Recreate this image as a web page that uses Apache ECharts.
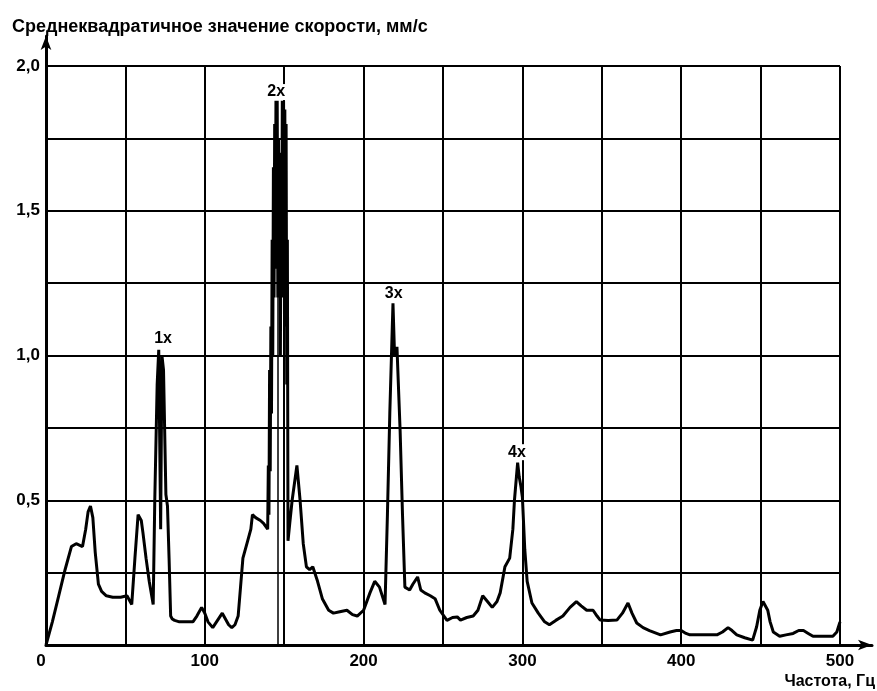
<!DOCTYPE html>
<html>
<head>
<meta charset="utf-8">
<script src="https://cdn.jsdelivr.net/npm/echarts@6/dist/echarts.min.js"></script>
<style>
	html, body { margin: 0; padding: 0; background: #fff; }
	#chart { width: 877px; height: 691px; }
</style>
</head>
<body>
<div id="chart"></div>
<script>
// частота, Гц
var freq = [0, 4, 8, 12, 16, 19, 23, 25, 26.5, 28, 29.5, 31, 33, 35, 38, 42, 47, 51, 54, 56, 58, 60, 61, 63, 65, 67.5,
	68.5, 70, 71, 72.2, 73, 74, 75.5, 76.5, 77.5, 78.5, 79.5, 81, 84, 88, 92.5, 95, 98, 100, 102, 105, 108, 111, 113, 115,
	117, 119, 121, 122.5, 124, 127, 129, 130, 132, 135, 137, 139.6,
	140, 140.4, 140.8, 141.2, 141.6, 142, 142.4, 142.8, 143.2, 143.6, 144, 144.4, 144.8, 145.2, 145.6, 146, 146.4, 146.8,
	147.2, 147.6, 148, 148.4, 148.8, 149.2, 149.6, 150, 150.4, 150.8, 151.2, 151.6, 152, 152.4,
	153.5, 155, 158, 160, 162, 164, 166, 168, 171, 174, 178, 181, 185,
	189.5, 193, 196, 200, 204, 207, 210, 213.5, 215, 216.5, 218.5, 219.5, 221, 223, 224.5, 226, 229, 231, 234, 236, 238.5,
	242, 245, 248, 252.5, 256, 259, 261, 265, 269, 272, 275, 278, 281, 284, 286, 289, 292, 294, 295, 297, 298, 299, 300,
	301.5, 303, 306, 310, 314, 317, 321, 325.5, 330, 334, 337, 340.5, 344.5, 347, 349, 354, 359.5, 363, 366.5, 369, 372,
	376, 380, 387, 393, 397, 400, 403, 405.5, 415, 422.5, 426, 429.5, 432, 435, 440, 445, 447.5, 449.5, 451.5, 454.5, 456,
	458, 462, 466, 470.5, 474, 477, 480, 483, 490, 495.5, 498, 500];
// среднеквадратичное значение скорости, мм/с
var rms = [0, 0.08, 0.17, 0.26, 0.34, 0.35, 0.34, 0.40, 0.46, 0.48, 0.44, 0.32, 0.21, 0.185, 0.17, 0.165, 0.165, 0.17, 0.14, 0.30, 0.45, 0.43, 0.39, 0.30, 0.22, 0.14,
	0.50, 0.90, 1.02, 0.40, 1.00, 0.95, 0.52, 0.48, 0.30, 0.10, 0.09, 0.085, 0.08, 0.08, 0.08, 0.10, 0.13, 0.11, 0.08, 0.06, 0.085, 0.11, 0.09, 0.07,
	0.06, 0.07, 0.10, 0.20, 0.30, 0.36, 0.40, 0.45, 0.44, 0.43, 0.42, 0.40,
	0.62, 0.45, 0.95, 0.60, 1.10, 0.80, 1.40, 1.00, 1.65, 1.20, 1.80, 1.30, 1.88, 1.50, 1.88, 1.20, 1.75, 1.35,
	1.70, 1.00, 1.60, 1.20, 1.88, 1.40, 1.88, 1.30, 1.85, 1.10, 1.80, 0.90, 1.40, 0.36,
	0.42, 0.50, 0.62, 0.50, 0.35, 0.27, 0.26, 0.27, 0.22, 0.16, 0.12, 0.11, 0.115,
	0.12, 0.105, 0.10, 0.12, 0.18, 0.22, 0.20, 0.14, 0.45, 0.80, 1.18, 1.00, 1.03, 0.74, 0.45, 0.20, 0.19, 0.21, 0.235, 0.19, 0.18,
	0.17, 0.16, 0.12, 0.085, 0.095, 0.097, 0.086, 0.095, 0.10, 0.12, 0.17, 0.15, 0.13, 0.15, 0.18, 0.27, 0.30, 0.40, 0.50, 0.63, 0.58, 0.55, 0.51,
	0.33, 0.22, 0.145, 0.11, 0.08, 0.07, 0.085, 0.10, 0.13, 0.15, 0.135, 0.12, 0.12, 0.10, 0.086, 0.085, 0.086, 0.11, 0.145, 0.11, 0.076,
	0.06, 0.05, 0.035, 0.045, 0.05, 0.05, 0.04, 0.035, 0.035, 0.035, 0.045, 0.06, 0.05, 0.035, 0.025, 0.017, 0.063, 0.12, 0.15, 0.12, 0.08,
	0.045, 0.03, 0.035, 0.04, 0.05, 0.05, 0.04, 0.03, 0.03, 0.03, 0.045, 0.08];
// подписи гармоник
var peakNames = ['1x', '2x', '3x', '4x'];
var peakFreq = [73.7, 145, 219, 296.6];
var peakVal = [1.06, 1.91, 1.214, 0.666];
// маркер под пиком 2x
var cursorFreq = 145.8;
var cursorTop = 1.75;

var font = '"Liberation Sans", Arial, sans-serif';
var chart = echarts.init(document.getElementById('chart'));

var points = freq.map(function (f, i) { return [f, rms[i]]; });
var peaks = peakNames.map(function (n, i) {
	return { name: n, coord: [peakFreq[i], peakVal[i]], value: n };
});

chart.setOption({
	animation: false,
	backgroundColor: '#fff',
	grid: [
		{ left: 46, right: 37, top: 66, bottom: 46 },
		// сетка только для осей со стрелками
		{ left: 46, right: 5, top: 36, bottom: 46 }
	],
	xAxis: [{
		type: 'value', min: 0, max: 500, interval: 50,
		axisLine: { show: false },
		axisTick: { show: false },
		splitLine: { show: true, lineStyle: { color: '#000', width: 2 } },
		axisLabel: {
			color: '#000', fontFamily: font, fontWeight: 'bold', fontSize: 17, margin: 8,
			formatter: function (v) {
				if (v === 0) return '{z|0}';
				return (v % 100 === 0) ? String(v) : '';
			},
			rich: { z: { fontFamily: font, fontWeight: 'bold', fontSize: 17, padding: [0, 10, 10, 0] } }
		}
	}, {
		gridIndex: 1, type: 'value', min: 0, max: 1,
		axisLine: { show: true, symbol: ['none', 'arrow'], symbolSize: [8, 14], lineStyle: { color: '#000', width: 3 } },
		axisTick: { show: false }, axisLabel: { show: false }, splitLine: { show: false }
	}],
	yAxis: [{
		type: 'value', min: 0, max: 2, interval: 0.25,
		axisLine: { show: false },
		axisTick: { show: false },
		splitLine: { show: true, lineStyle: { color: '#000', width: 2 } },
		axisLabel: {
			color: '#000', fontFamily: font, fontWeight: 'bold', fontSize: 17, margin: 6,
			formatter: function (v) {
				if (v === 0) return '';
				return (Math.round(v * 100) % 50 === 0) ? v.toFixed(1).replace('.', ',') : '';
			}
		}
	}, {
		gridIndex: 1, type: 'value', min: 0, max: 1,
		axisLine: { show: true, symbol: ['none', 'arrow'], symbolSize: [8, 14], lineStyle: { color: '#000', width: 3 } },
		axisTick: { show: false }, axisLabel: { show: false }, splitLine: { show: false }
	}],
	graphic: [{
		type: 'text', left: 12, top: 18,
		style: { text: 'Среднеквадратичное значение скорости, мм/с', fill: '#000', font: 'bold 18px ' + font }
	}, {
		type: 'text', right: 2, bottom: 1,
		style: { text: 'Частота, Гц', fill: '#000', font: 'bold 16px ' + font }
	}],
	series: [{
		type: 'line',
		data: points,
		showSymbol: false,
		lineStyle: { color: '#000', width: 3 },
		markPoint: {
			symbol: 'circle', symbolSize: 1,
			itemStyle: { color: 'rgba(0,0,0,0)' },
			label: {
				show: true, position: 'inside', color: '#000',
				fontFamily: font, fontWeight: 'bold', fontSize: 16,
				backgroundColor: '#fff', padding: [0, 1],
				formatter: function (p) { return p.value; }
			},
			data: peaks
		},
		markLine: {
			symbol: 'none', silent: true,
			label: { show: false },
			lineStyle: { color: '#000', width: 1.5, type: 'solid' },
			data: [[{ coord: [cursorFreq, 0] }, { coord: [cursorFreq, cursorTop] }]]
		}
	}]
});
</script>
</body>
</html>
